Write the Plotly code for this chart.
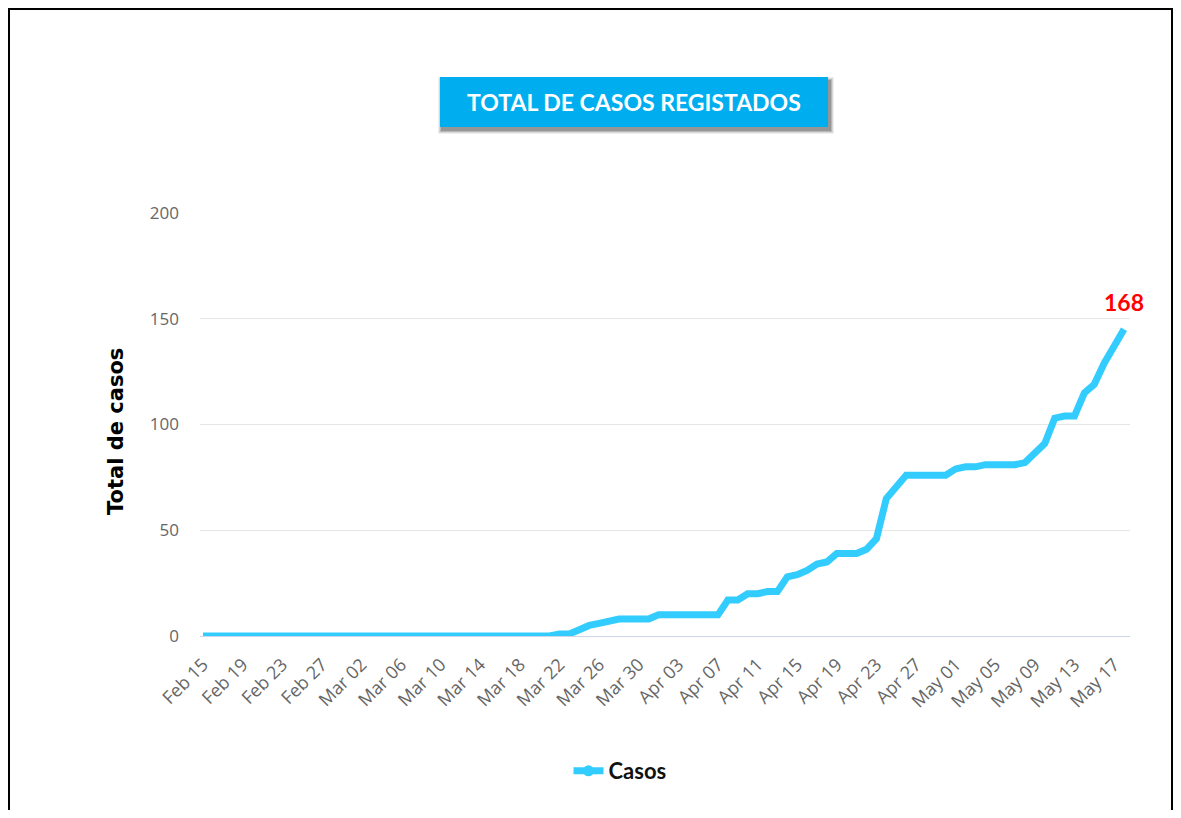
import pandas as pd
import plotly.graph_objects as go

# ---- data ----
start_date = "2020-02-15"
end_date = "2020-05-18"
dates = pd.date_range(start_date, end_date, freq="D")
casos = [0] * 36 + [
    1, 1, 3, 5, 6, 7, 8, 8, 8, 8,
    10, 10, 10, 10, 10, 10, 10, 17, 17, 20,
    20, 21, 21, 28, 29, 31, 34, 35, 39, 39,
    39, 41, 46, 65, 70, 76, 76, 76, 76, 76,
    79, 80, 80, 81, 81, 81, 81, 82, 87, 91,
    103, 104, 104, 115, 119, 129, 137, 145,
]
series_name = "Casos"
chart_title = "TOTAL DE CASOS REGISTADOS"
y_title = "Total de casos"
last_label = "168"
y_ticks = [0, 50, 100, 150, 200]

# ---- geometry (page pixels; body margin of 8px) ----
OFF = 8
W, H = 1181 - 2 * OFF, 818 - 2 * OFF
PL, PR, PT, PB = 200, 1130, 213, 636  # plot area in page px
PW, PH = PR - PL, PB - PT


def px(x):
    return (x - PL) / PW


def py(y):
    return (PB - y) / PH


day_px = (1124 - 203) / (len(dates) - 1)
x0 = dates[0] - pd.Timedelta(days=(203 - PL) / day_px)
x1 = dates[-1] + pd.Timedelta(days=(PR - 1124) / day_px)

LINE_COLOR = "#33CCFF"

fig = go.Figure()
fig.add_trace(go.Scatter(
    x=dates, y=casos, mode="lines", name=series_name,
    line=dict(color=LINE_COLOR, width=7, shape="linear"),
    showlegend=False, legendgroup="c", hoverinfo="x+y",
))
# legend entry (line + marker symbol like the original)
fig.add_trace(go.Scatter(
    x=[None], y=[None], mode="lines+markers", name=series_name,
    line=dict(color=LINE_COLOR, width=7),
    marker=dict(color=LINE_COLOR, size=11, symbol="circle"),
    legendgroup="c", showlegend=True,
))

shapes = []
# outer black border
shapes.append(dict(type="rect", xref="paper", yref="paper",
                   x0=px(9), x1=px(1172), y0=py(840), y1=py(9),
                   line=dict(color="black", width=2), fillcolor="rgba(0,0,0,0)", layer="below"))
# title box shadow (soft)
for i, op in enumerate([0.06, 0.10, 0.14, 0.18]):
    d = 4 - i
    shapes.append(dict(type="rect", xref="paper", yref="paper",
                       x0=px(440 - d + 2), x1=px(828 + d + 2), y0=py(127 + d + 3), y1=py(77 - d + 4),
                       line=dict(width=0), fillcolor=f"rgba(0,0,0,{op})", layer="above"))
# title box
shapes.append(dict(type="rect", xref="paper", yref="paper",
                   x0=px(440), x1=px(828), y0=py(127), y1=py(77),
                   line=dict(width=0), fillcolor="#00AEEF", layer="above"))

annotations = [
    dict(text=f"<b>{chart_title}</b>", xref="paper", yref="paper",
         x=px(634), y=py(102), xanchor="center", yanchor="middle", showarrow=False,
         font=dict(family="Lato", size=23, color="white")),
    dict(text=f"<b>{y_title}</b>", xref="paper", yref="paper",
         x=px(116), y=py(432), xanchor="center", yanchor="middle", showarrow=False,
         textangle=-90, font=dict(family="DejaVu Sans", size=21, color="black")),
    dict(text=f"<b>{last_label}</b>", x=dates[-1], y=casos[-1], xref="x", yref="y",
         xanchor="center", yanchor="bottom", yshift=11, showarrow=False,
         font=dict(family="Lato", size=23, color="#FF0000")),
]

fig.update_layout(
    width=W, height=H,
    margin=dict(l=PL - OFF, r=W - (PR - OFF), t=PT - OFF, b=H - (PB - OFF), pad=0),
    paper_bgcolor="white", plot_bgcolor="white",
    shapes=shapes, annotations=annotations,
    showlegend=True,
    legend=dict(orientation="h", x=px(620), y=py(771), xanchor="center", yanchor="middle",
                font=dict(family="Lato", size=22, color="#111111", weight="bold"),
                bgcolor="rgba(0,0,0,0)", itemwidth=30),
    font=dict(family="Open Sans"),
)
fig.update_xaxes(
    type="date", range=[x0, x1], tick0=start_date, dtick=4 * 86400000,
    tickformat="%b %d", tickangle=-45,
    tickfont=dict(family="Open Sans", size=18, color="#666666"),
    showgrid=False, showline=True, linecolor="#CCD6EB", linewidth=1,
    ticks="", zeroline=False, ticklabelstandoff=10,
)
fig.update_yaxes(
    range=[0, 200], tickvals=y_ticks,
    tickfont=dict(family="Open Sans", size=17, color="#666666"),
    showgrid=True, gridcolor="#E6E6E6", gridwidth=1,
    zeroline=False, showline=False, ticks="", ticklabelstandoff=20,
)

fig.write_html("out.html")
